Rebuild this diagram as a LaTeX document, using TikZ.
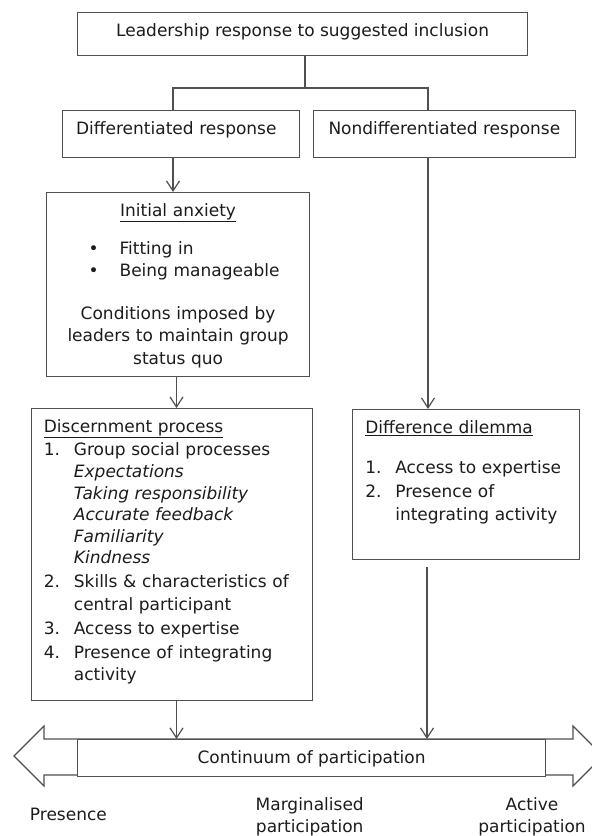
\documentclass[tikz,border=0pt]{standalone}
\usepackage{fontspec}
\setmainfont{DejaVu Sans}
\usetikzlibrary{arrows.meta}
\definecolor{linegray}{HTML}{505050}
\definecolor{inkblack}{HTML}{1C1C1C}
\newcommand{\diagfont}{\fontsize{17pt}{22.4pt}\selectfont}
\newcommand{\numlbl}[1]{\makebox[30pt][l]{#1}}
\newcommand{\subln}{\hspace*{30pt}}
\newcommand{\bulln}[1]{\makebox[\linewidth][l]{\hspace*{32pt}\makebox[31pt][l]{\textbullet}#1}}

\begin{document}
\begin{tikzpicture}[
  x=1pt, y=-1pt,
  box/.style={draw=linegray, line width=1.2pt, fill=white, inner ysep=0pt, text height=23.5pt, anchor=north west, font=\diagfont, text=inkblack},
  lbl/.style={anchor=base, align=center, text width=160pt, inner sep=0pt, font=\diagfont, text=inkblack},
  line/.style={draw=linegray, line width=1.2pt},
  arrow/.style={line, -{Straight Barb[length=10pt, width=13pt]}}
]
  \useasboundingbox (0,0) rectangle (592,836);

  \coordinate (split) at (305,88);
  \coordinate (lft) at (173,88);
  \coordinate (rgt) at (428,88);
  \coordinate (lane) at (176.5,0);
  \coordinate (lane2) at (427,0);

  \node[box, minimum width=450pt, text depth=19.5pt] (top) at (77,12) {Leadership response to suggested inclusion};

  \node[box, text width=210pt, inner xsep=13.5pt, align=left, text depth=23.5pt] (diff) at (62,110) {Differentiated response};
  \node[box, minimum width=262.4pt, text depth=23.5pt] (nondiff) at (312.6,110) {Nondifferentiated response};

  \node[box, text width=243pt, inner xsep=10pt, align=center, text depth=160.5pt] (anx) at (46,192) {\underline{Initial anxiety}\\[16pt]
    \bulln{Fitting in}\\
    \bulln{Being manageable}\\[20pt]
    Conditions imposed by\\
    leaders to maintain group\\
    status quo};

  \node[box, text width=256pt, inner xsep=12.6pt, align=left, text depth=268.5pt] (disc) at (30.7,408) {\underline{Discernment process}\\[1pt]
    \numlbl{1.}Group social processes\\
    \subln\textit{Expectations}\\[-1pt]
    \subln\textit{Taking responsibility}\\[-1pt]
    \subln\textit{Accurate feedback}\\[-1pt]
    \subln\textit{Familiarity}\\[-1pt]
    \subln\textit{Kindness}\\[2pt]
    \numlbl{2.}Skills \& characteristics of\\
    \subln central participant\\[2pt]
    \numlbl{3.}Access to expertise\\[1pt]
    \numlbl{4.}Presence of integrating\\
    \subln activity};

  \node[box, text width=201pt, inner xsep=13pt, align=left, text depth=126.5pt] (dilemma) at (351.7,409) {\underline{Difference dilemma}\\[18.3pt]
    \numlbl{1.}Access to expertise\\[1pt]
    \numlbl{2.}Presence of\\[0.6pt]
    \subln integrating activity};

  \draw[line, fill=white, line join=miter] (44,739) -- (44,726) -- (14,756) -- (44,786) -- (44,775) -- (573,775) -- (573,786) -- (603,756) -- (573,726) -- (573,739) -- cycle;
  \node[box, minimum width=468pt, text height=24pt, text depth=12.5pt] (bar) at (77,739) {Continuum of participation};

  \node[lbl] (pres) at (68.4,820) {Presence};
  \node[lbl] (marg) at (309.7,810) {Marginalised\\participation};
  \node[lbl] (act) at (532,810) {Active\\participation};

  \draw[line] (top.south -| split) -- (split);
  \draw[line] (diff.north -| lft) -- (lft) -- (rgt) -- (nondiff.north -| rgt);
  \draw[arrow] (diff.south -| lft) -- (anx.north -| lft);
  \draw[arrow] (anx.south -| lane) -- (disc.north -| lane);
  \draw[arrow] (disc.south -| lane) -- (bar.north -| lane);
  \draw[arrow] (nondiff.south -| rgt) -- (dilemma.north -| rgt);
  \draw[arrow, shorten <=7pt] (dilemma.south -| lane2) -- (bar.north -| lane2);
\end{tikzpicture}
\end{document}
